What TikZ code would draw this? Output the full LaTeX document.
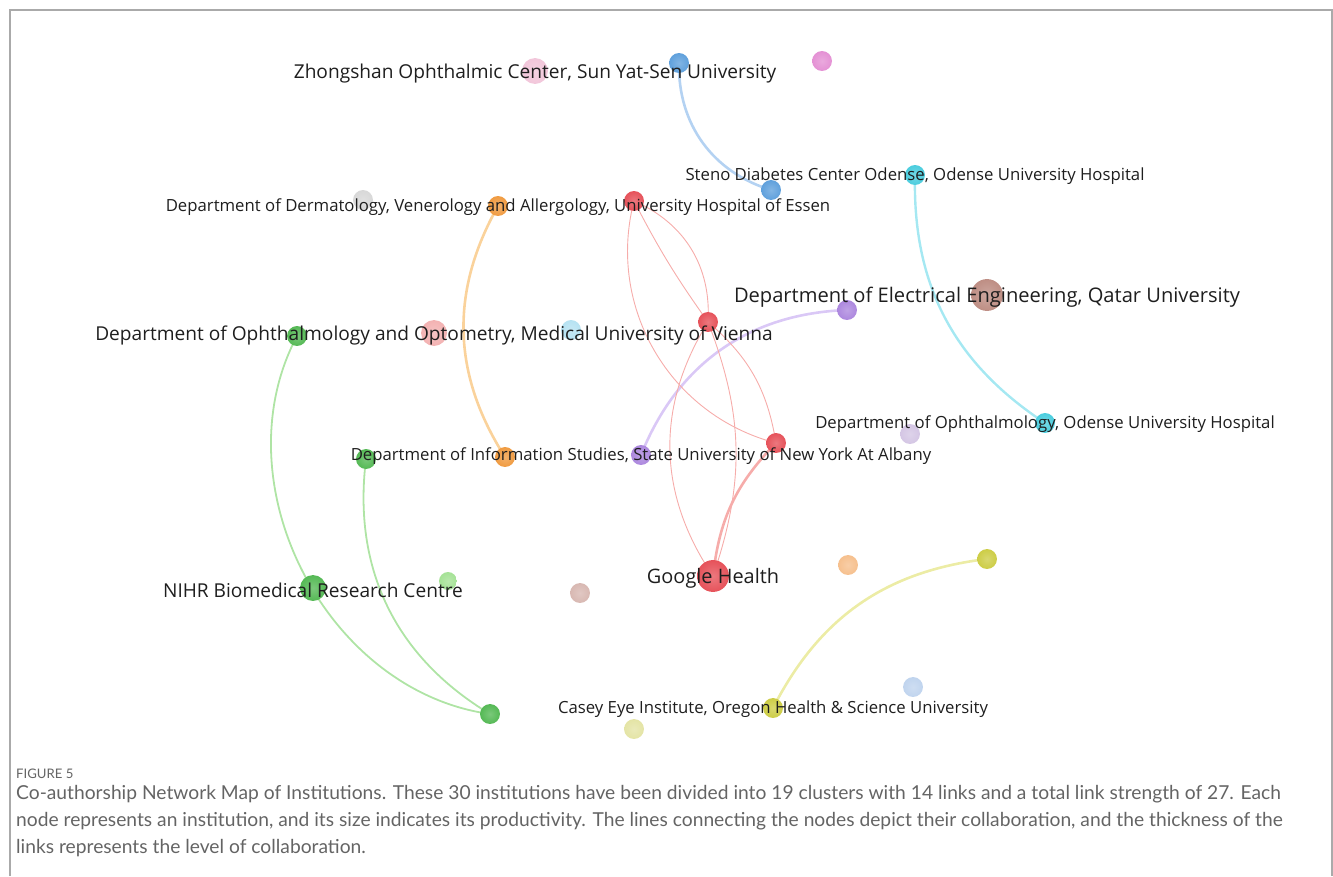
\documentclass[tikz,border=0pt]{standalone}
\usepackage{fontspec}
\setmainfont{Open Sans}
\newfontfamily\capfont{Lato}
\usetikzlibrary{backgrounds}
\definecolor{cRed}{RGB}{230,82,90}
\definecolor{cRedE}{RGB}{246,172,170}
\definecolor{cBlue}{RGB}{95,160,220}
\definecolor{cBlueE}{RGB}{180,210,242}
\definecolor{cCyan}{RGB}{75,205,222}
\definecolor{cCyanE}{RGB}{165,232,242}
\definecolor{cOrange}{RGB}{240,155,65}
\definecolor{cOrangeE}{RGB}{250,210,155}
\definecolor{cPurple}{RGB}{172,135,222}
\definecolor{cPurpleE}{RGB}{218,200,246}
\definecolor{cGreen}{RGB}{85,185,85}
\definecolor{cGreenE}{RGB}{175,228,165}
\definecolor{cOlive}{RGB}{205,205,70}
\definecolor{cOliveE}{RGB}{236,236,165}
\definecolor{cPinkPale}{RGB}{242,198,218}
\definecolor{cMag}{RGB}{228,145,212}
\definecolor{cGrey}{RGB}{216,216,216}
\definecolor{cPinkR}{RGB}{243,178,178}
\definecolor{cLightBlue}{RGB}{182,226,242}
\definecolor{cBrown}{RGB}{190,142,132}
\definecolor{cLightGreen}{RGB}{165,226,150}
\definecolor{cLightPurple}{RGB}{212,198,228}
\definecolor{cPinkBrown}{RGB}{216,184,178}
\definecolor{cLightOrange}{RGB}{246,192,142}
\definecolor{cBlueGrey}{RGB}{192,212,238}
\definecolor{cPaleYellow}{RGB}{228,228,165}
\definecolor{cText}{RGB}{30,30,30}
\definecolor{cCap}{RGB}{100,100,100}
\definecolor{cFrame}{RGB}{170,170,170}
\begin{document}
\begin{tikzpicture}[x=1bp,y=-1bp,
  inst/.style 2 args={circle,inner sep=0pt,minimum size=#2,inner color=#1!78!white,outer color=#1},
  big/.style={text=cText,inner sep=0pt,yshift=-2.5bp,font=\fontsize{19.2}{22}\selectfont},
  small/.style={text=cText,inner sep=0pt,yshift=-1.5bp,font=\fontsize{16.8}{19}\selectfont},
  link/.style 2 args={draw=#1,line width=#2,line cap=round}
]
\useasboundingbox (0,0) rectangle (1333,876);
\draw[cFrame,line width=2bp] (10,876) -- (10,10) -- (1332,10) -- (1332,876);

% institutions
\node[inst={cPinkPale}{26}] (zh) at (535,71) {};
\node[inst={cBlue}{20}] (bl1) at (679,63) {};
\node[inst={cMag}{20}] (mag) at (822,61) {};
\node[inst={cBlue}{20}] (bl2) at (771,190) {};
\node[inst={cCyan}{20}] (cy1) at (915,175) {};
\node[inst={cGrey}{20}] (gry) at (363,200) {};
\node[inst={cOrange}{20}] (or1) at (498,206) {};
\node[inst={cRed}{20}] (rd1) at (634,201) {};
\node[inst={cRed}{20}] (rd2) at (708,322) {};
\node[inst={cRed}{20}] (rd3) at (776,443) {};
\node[inst={cRed}{32}] (gh) at (713,576) {};
\node[inst={cBrown}{32}] (br) at (987,295) {};
\node[inst={cPinkR}{26}] (vie) at (434,333) {};
\node[inst={cLightBlue}{20}] (lb) at (571,330) {};
\node[inst={cGreen}{20}] (g1) at (297,336) {};
\node[inst={cGreen}{20}] (g2) at (366,459) {};
\node[inst={cGreen}{26}] (nihr) at (313,588) {};
\node[inst={cGreen}{20}] (g3) at (490,714) {};
\node[inst={cLightGreen}{18}] (lg) at (448,581) {};
\node[inst={cPurple}{20}] (pu1) at (847,310) {};
\node[inst={cPurple}{20}] (pu2) at (641,455) {};
\node[inst={cOrange}{20}] (or2) at (505,457) {};
\node[inst={cLightPurple}{20}] (lpu) at (910,434) {};
\node[inst={cCyan}{20}] (cy2) at (1045,423) {};
\node[inst={cPinkBrown}{20}] (pb) at (580,593) {};
\node[inst={cLightOrange}{20}] (lor) at (848,565) {};
\node[inst={cOlive}{20}] (y1) at (987,559) {};
\node[inst={cOlive}{20}] (y2) at (773,708) {};
\node[inst={cBlueGrey}{20}] (lbg) at (913,687) {};
\node[inst={cPaleYellow}{20}] (py) at (634,729) {};

% links
\begin{scope}[on background layer]
\draw[link={cBlueE}{2.6bp}] (bl1.center) to[bend right=37] (bl2.center);
\draw[link={cCyanE}{2.4bp}] (cy1.center) to[bend right=29] (cy2.center);
\draw[link={cOrangeE}{2.6bp}] (or1.center) to[bend right=31] (or2.center);
\draw[link={cPurpleE}{2.6bp}] (pu2.center) to[bend left=33] (pu1.center);
\draw[link={cOliveE}{2.6bp}] (y2.center) to[bend left=28] (y1.center);
\draw[link={cGreenE}{1.8bp}] (g1.center) to[bend right=55] (g3.center);
\draw[link={cGreenE}{1.8bp}] (g2.center) to[bend right=33] (g3.center);
\draw[link={cRedE}{0.9bp}] (rd1.center) to[bend right=4] (rd2.center);
\draw[link={cRedE}{0.9bp}] (rd1.center) to[bend left=35] (rd2.center);
\draw[link={cRedE}{0.9bp}] (rd1.center) to[bend right=45] (rd3.center);
\draw[link={cRedE}{0.9bp}] (rd2.center) to[bend right=33] (gh.center);
\draw[link={cRedE}{0.9bp}] (rd2.center) to[bend left=20] (gh.center);
\draw[link={cRedE}{0.9bp}] (rd2.center) to[bend left=20] (rd3.center);
\draw[link={cRedE}{2.6bp}] (rd3.center) to[bend right=19] (gh.center);
\end{scope}

% labels
\node[big] (lzh) at (zh) {Zhongshan Ophthalmic Center, Sun Yat-Sen University};
\node[small] (lcy1) at (cy1) {Steno Diabetes Center Odense, Odense University Hospital};
\node[small] (lor1) at (or1) {Department of Dermatology, Venerology and Allergology, University Hospital of Essen};
\node[big,font=\fontsize{20.2}{23}\selectfont] (lbr) at (br) {Department of Electrical Engineering, Qatar University};
\node[big] (lvie) at (vie) {Department of Ophthalmology and Optometry, Medical University of Vienna};
\node[small] (lcy2) at (cy2) {Department of Ophthalmology, Odense University Hospital};
\node[small] (lpu2) at (pu2) {Department of Information Studies, State University of New York At Albany};
\node[big,font=\fontsize{20}{23}\selectfont] (lgh) at (gh) {Google Health};
\node[big] (lnihr) at (nihr) {NIHR Biomedical Research Centre};
\node[small] (ly2) at (y2) {Casey Eye Institute, Oregon Health \& Science University};

% caption
\node[anchor=west,inner sep=0pt,text=cCap,font=\capfont\fontsize{13.2}{15}\selectfont] (fig) at (16,774) {FIGURE 5};
\node[anchor=base west,inner sep=0pt,text=cCap,align=left,font=\capfont\fontsize{19.3}{27}\selectfont] (cap) at (16,853) {Co-authorship Network Map of Institutions. These 30 institutions have been divided into 19 clusters with 14 links and a total link strength of 27. Each\\node represents an institution, and its size indicates its productivity. The lines connecting the nodes depict their collaboration, and the thickness of the\\links represents the level of collaboration.};
\end{tikzpicture}
\end{document}
